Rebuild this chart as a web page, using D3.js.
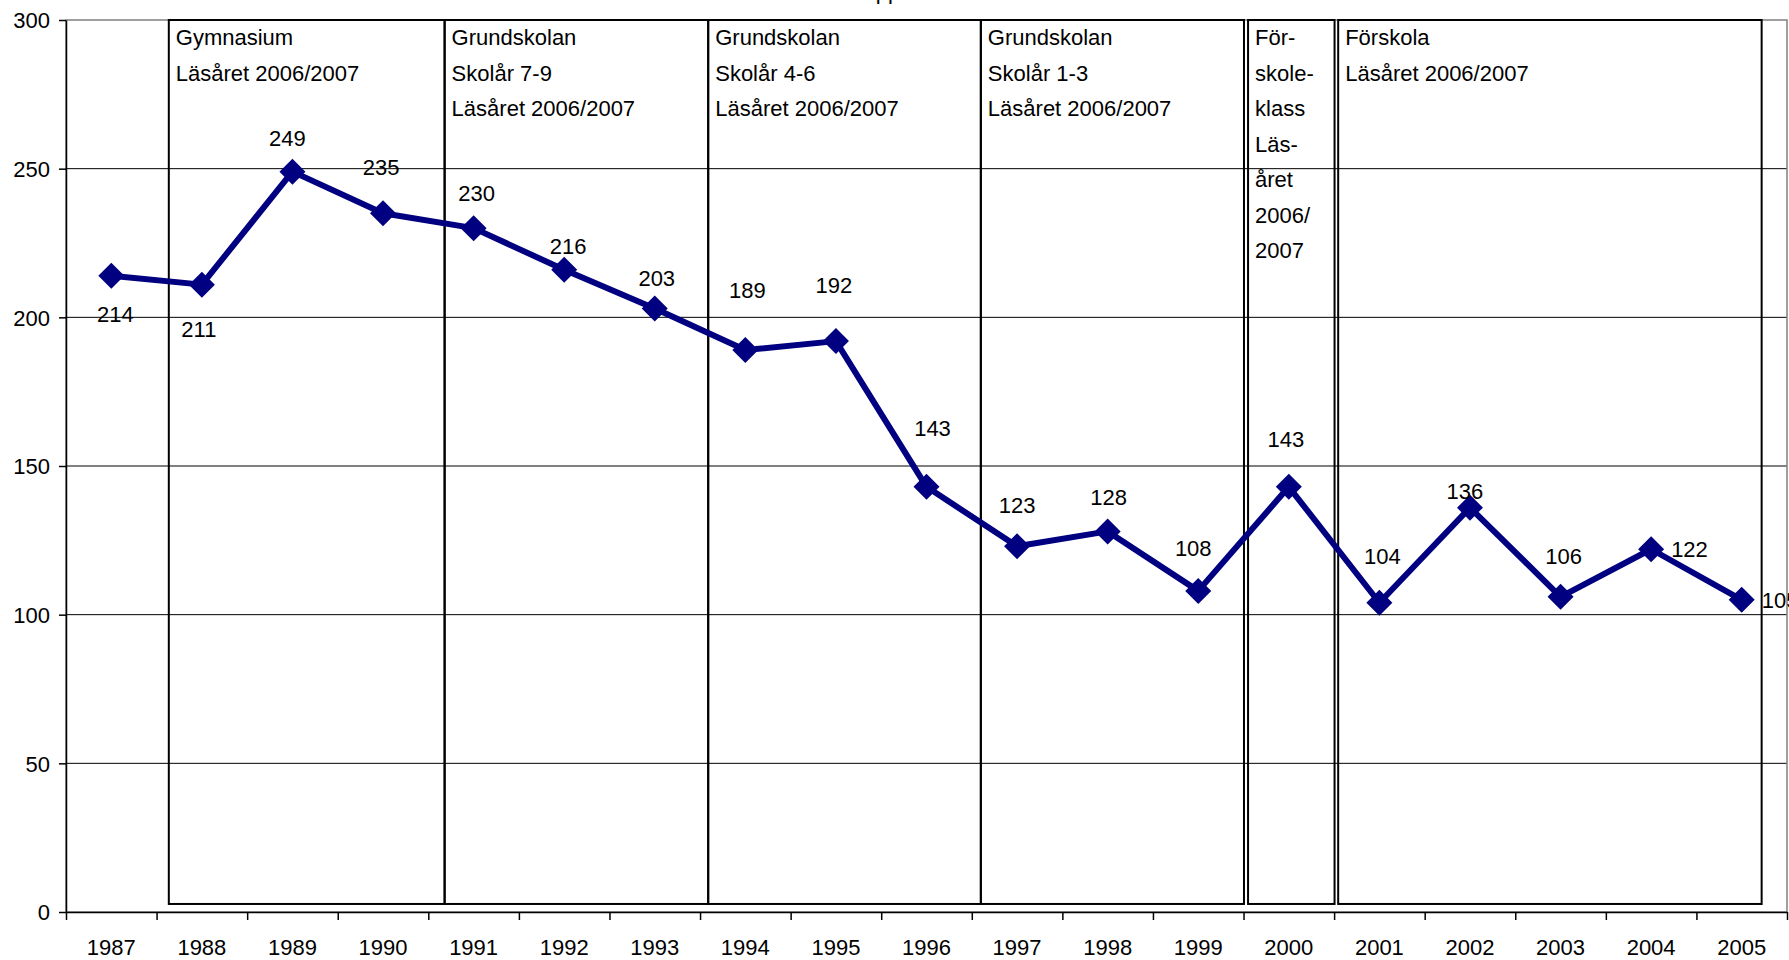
<!DOCTYPE html>
<html>
<head>
<meta charset="utf-8">
<script src="https://d3js.org/d3.v7.min.js"></script>
<style>
  body{ margin:0; background:#fff; }
  svg{ display:block; font-family:"Liberation Sans", Arial, sans-serif; }
  .tick text{ font-size:22px; fill:#000; }
  .lbl{ font-size:22px; fill:#000; }
  .boxtext{ font-size:22px; fill:#000; }
</style>
</head>
<body>
<svg id="chart" width="1789" height="960"></svg>
<script>
  // data
  var years = [1987,1988,1989,1990,1991,1992,1993,1994,1995,1996,1997,1998,1999,2000,2001,2002,2003,2004,2005];
  var values = [214,211,249,235,230,216,203,189,192,143,123,128,108,143,104,136,106,122,105];
  var yTicks = [0,50,100,150,200,250,300];

  // text boxes (edges in year units, top/bottom in value units)
  var boxStart = [1987.635, 1990.68, 1993.59, 1996.60, 1999.55, 2000.545];
  var boxEnd   = [1990.68, 1993.59, 1996.60, 1999.505, 2000.505, 2005.22];
  var boxText = [
    ["Gymnasium", "Läsåret 2006/2007"],
    ["Grundskolan", "Skolår 7-9", "Läsåret 2006/2007"],
    ["Grundskolan", "Skolår 4-6", "Läsåret 2006/2007"],
    ["Grundskolan", "Skolår 1-3", "Läsåret 2006/2007"],
    ["För-", "skole-", "klass", "Läs-", "året", "2006/", "2007"],
    ["Förskola", "Läsåret 2006/2007"]
  ];
  var boxTop = 300, boxBottom = 2.7;

  // where each data label sits relative to its point (px)
  var labelDx = [4,-3,-5,-2,3,4,2,2,-2,6,0,1,-5,-3,3,-5,3,20,20];
  var labelDy = [38,44,-34,-46,-35,-24,-30,-60,-56,-59,-41,-34,-43,-48,-47,-17,-41,0,0];

  var svg = d3.select("#chart");
  var plotLeft = 66, plotRight = 1787, plotTop = 20, plotBottom = 912;

  var x = d3.scaleLinear().domain([years[0]-0.5, years[years.length-1]+0.5]).range([plotLeft, plotRight]);
  var y = d3.scaleLinear().domain([0,300]).range([plotBottom, plotTop]);

  // partly hidden title above the chart
  svg.append("text")
    .attr("x", 888).attr("y", -1.5)
    .attr("text-anchor", "middle")
    .style("font-size", "22px")
    .text("pp");

  // gridlines
  svg.append("g")
    .selectAll("line")
    .data(yTicks.filter(function(d){ return d > 0 && d < 300; }))
    .enter().append("line")
    .attr("x1", plotLeft).attr("x2", plotRight)
    .attr("y1", function(d){ return y(d); })
    .attr("y2", function(d){ return y(d); })
    .attr("stroke", "#000")
    .attr("stroke-width", 1);

  // plot area border
  svg.append("rect")
    .attr("x", plotLeft).attr("y", plotTop)
    .attr("width", plotRight-plotLeft).attr("height", plotBottom-plotTop)
    .attr("fill", "none")
    .attr("stroke", "#808080")
    .attr("stroke-width", 1.5);

  // y axis
  var yAxis = svg.append("g")
    .attr("transform", "translate(" + plotLeft + ",0)")
    .call(d3.axisLeft(y).tickValues(yTicks).tickSize(7).tickPadding(9).tickSizeOuter(0));
  yAxis.selectAll(".domain, .tick line").attr("stroke", "#000").attr("stroke-width", 1.5);
  yAxis.selectAll(".tick text").attr("dy", "0.36em");

  // x axis: ticks between categories, labels at centres
  var bounds = d3.range(years.length+1).map(function(i){ return years[0]-0.5+i; });
  var xAxis = svg.append("g")
    .attr("transform", "translate(0," + plotBottom + ")")
    .call(d3.axisBottom(x).tickValues(bounds).tickSize(8).tickFormat("").tickSizeOuter(0));
  xAxis.selectAll(".domain, .tick line").attr("stroke", "#000").attr("stroke-width", 1.5);

  svg.append("g")
    .selectAll("text")
    .data(years)
    .enter().append("text")
    .attr("class", "lbl")
    .attr("x", function(d){ return x(d); })
    .attr("y", 955)
    .attr("text-anchor", "middle")
    .text(function(d){ return d; });

  // text boxes
  var boxes = svg.append("g").selectAll("g")
    .data(boxText)
    .enter().append("g");

  boxes.append("rect")
    .attr("x", function(d,i){ return x(boxStart[i]); })
    .attr("y", y(boxTop))
    .attr("width", function(d,i){ return x(boxEnd[i]) - x(boxStart[i]); })
    .attr("height", y(boxBottom) - y(boxTop))
    .attr("fill", "none")
    .attr("stroke", "#000")
    .attr("stroke-width", 2);

  boxes.each(function(lines, i){
    var g = d3.select(this);
    lines.forEach(function(t, j){
      g.append("text")
        .attr("class", "boxtext")
        .attr("x", x(boxStart[i]) + 7)
        .attr("y", 45 + j*35.5)
        .text(t);
    });
  });

  // line + markers
  var line = d3.line()
    .x(function(d,i){ return x(years[i]); })
    .y(function(d){ return y(d); });

  svg.append("path")
    .datum(values)
    .attr("d", line)
    .attr("fill", "none")
    .attr("stroke", "#000080")
    .attr("stroke-width", 6)
    .attr("stroke-linejoin", "round");

  var r = 13;
  svg.append("g")
    .selectAll("path")
    .data(values)
    .enter().append("path")
    .attr("transform", function(d,i){ return "translate(" + x(years[i]) + "," + y(d) + ")"; })
    .attr("d", "M0,"+(-r)+"L"+r+",0L0,"+r+"L"+(-r)+",0Z")
    .attr("fill", "#000080");

  // data labels
  svg.append("g")
    .selectAll("text")
    .data(values)
    .enter().append("text")
    .attr("class", "lbl")
    .attr("x", function(d,i){ return x(years[i]) + labelDx[i]; })
    .attr("y", function(d,i){ return y(d) + labelDy[i] + 8; })
    .attr("text-anchor", function(d,i){ return labelDx[i] >= 15 ? "start" : "middle"; })
    .text(function(d){ return d; });
</script>
</body>
</html>
